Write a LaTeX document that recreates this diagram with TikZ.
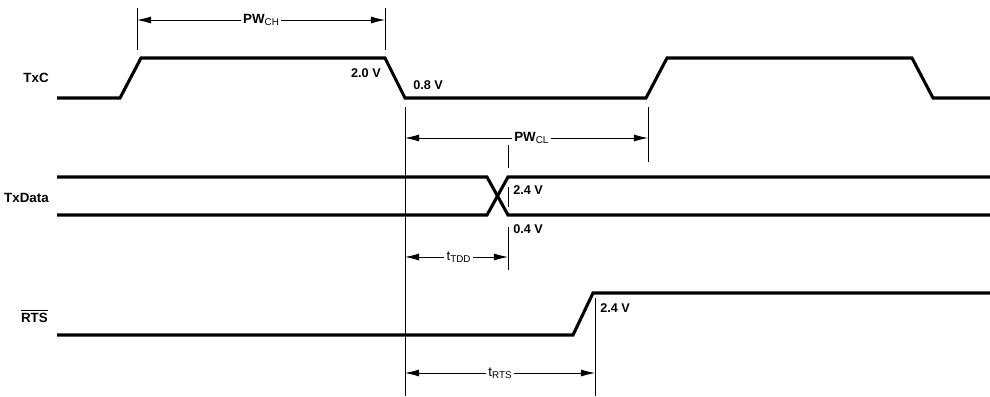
\documentclass[tikz,border=0pt]{standalone}
\usepackage{fontspec}
\setmainfont{Liberation Sans}
\usetikzlibrary{arrows.meta, positioning}

\newcommand{\lowsub}[1]{\raisebox{-0.25ex}{\fontsize{7}{8}\selectfont\mdseries #1}}

\begin{document}
\begin{tikzpicture}[
    x=0.025cm, y=-0.025cm,
    signal/.style={line width=2.2pt, line join=miter},
    guide/.style={line width=0.6pt},
    dim/.style={{Latex[length=10pt,width=5pt]}-{Latex[length=10pt,width=5pt]}, line width=0.6pt},
    dimlabel/.style={fill=white, inner sep=1.5pt, font=\fontsize{9.5}{10}\selectfont\bfseries},
    sig/.style={anchor=east, inner sep=0pt, font=\fontsize{9.5}{10}\selectfont\bfseries},
    level/.style={anchor=west, inner sep=0pt, font=\fontsize{9}{10}\selectfont\bfseries}
]
\useasboundingbox (0,0) rectangle (990,396);

% Signal names
\node[sig] (txc) at (49,78) {TxC};
\node[sig] (txd) at (49,198) {TxData};
\node[sig] (rts) at (48,316) {$\overline{\mbox{\bfseries RTS}}$};

% TxC
\draw[signal] (57,98) -- (120,98) -- (141,58) -- (385,58) -- (405,98)
    -- (646,98) -- (667,58) -- (912,58) -- (933,98) -- (990,98);
\node[level, anchor=east] (v20) at (381,73) {2.0 V};
\node[level] (v08) at (413,85) {0.8 V};

% TxData
\draw[signal] (57,177) -- (487,177) -- (508,215) -- (990,215);
\draw[signal] (57,215) -- (487,215) -- (508,177) -- (990,177);
\node[level] (v24d) at (513,190) {2.4 V};
\node[level] (v04d) at (513,229) {0.4 V};

% RTS
\draw[signal] (57,335) -- (573,335) -- (593,293) -- (990,293);
\node[level] (v24r) at (600,308) {2.4 V};

% Guide lines
\coordinate (chA) at (137,8);   \coordinate (chB) at (137,50);
\coordinate (chC) at (385,8);   \coordinate (chD) at (385,50);
\coordinate (clA) at (405,107); \coordinate (clB) at (405,396);
\coordinate (clC) at (648,107); \coordinate (clD) at (648,162);
\coordinate (ddA) at (508,145); \coordinate (ddB) at (508,168);
\coordinate (ddC) at (508,187); \coordinate (ddD) at (508,207);
\coordinate (ddE) at (508,227); \coordinate (ddF) at (508,270);
\coordinate (rsA) at (595,298); \coordinate (rsB) at (595,396);

\draw[guide] (chA) -- (chB);
\draw[guide] (chC) -- (chD);
\draw[guide] (clA) -- (clB);
\draw[guide] (clC) -- (clD);
\draw[guide] (ddA) -- (ddB);
\draw[guide] (ddC) -- (ddD);
\draw[guide] (ddE) -- (ddF);
\draw[guide] (rsA) -- (rsB);

% Dimensions
\draw[dim] (chA |- 0,20) -- node[dimlabel] (pwch) {PW\lowsub{CH}} (chC |- 0,20);
\draw[dim] (clA |- 0,138) -- node[dimlabel, pos=0.52] (pwcl) {PW\lowsub{CL}} (clC |- 0,138);
\draw[dim] (clA |- 0,257) -- node[dimlabel, pos=0.52] (tdd) {\mdseries t\lowsub{TDD}} (ddA |- 0,257);
\draw[dim] (clA |- 0,373) -- node[dimlabel] (trts) {\mdseries t\lowsub{RTS}} (rsA |- 0,373);

\end{tikzpicture}
\end{document}
